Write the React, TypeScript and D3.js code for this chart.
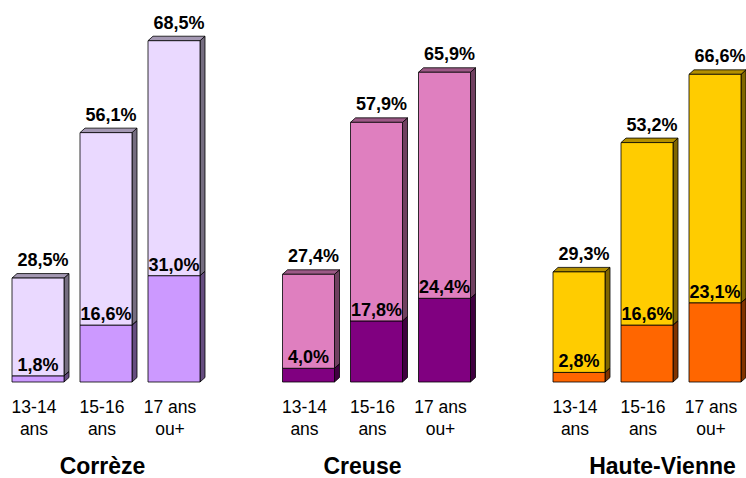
import React from "react";
import * as d3 from "d3";

const regions = ["Corrèze", "Creuse", "Haute-Vienne"];
const ages = ["13-14 ans", "15-16 ans", "17 ans ou+"];
const ageLines = [["13-14", "ans"], ["15-16", "ans"], ["17 ans", "ou+"]];
// dark (bottom) segment values
const darkValues = [
  [1.8, 16.6, 31.0],
  [4.0, 17.8, 24.4],
  [2.8, 16.6, 23.1],
];
// light (top) segment values
const lightValues = [
  [28.5, 56.1, 68.5],
  [27.4, 57.9, 65.9],
  [29.3, 53.2, 66.6],
];
const darkColors = ["#CC99FF", "#800080", "#FF6600"];
const lightColors = ["#EAD9FF", "#DF7FBF", "#FFCC00"];
const titleOffsets = [98.5, 88, 117.5];

const W = 746;
const H = 478;
const DX = 5;
const DY = 4.5;

const fmt = (v: number) => v.toFixed(1).replace(".", ",") + "%";

function shade(c: string, k: number) {
  const col = d3.rgb(c);
  return d3.rgb(col.r * k, col.g * k, col.b * k).formatHex();
}

function Box({ x, w, y0, y1, color }: { x: number; w: number; y0: number; y1: number; color: string }) {
  // y0 bottom, y1 top (pixel)
  const top = `M${x},${y1} L${x + DX},${y1 - DY} L${x + w + DX},${y1 - DY} L${x + w},${y1} Z`;
  const side = `M${x + w},${y1} L${x + w + DX},${y1 - DY} L${x + w + DX},${y0 - DY} L${x + w},${y0} Z`;
  return (
    <g stroke="#000" strokeWidth={0.8} strokeLinejoin="round">
      <path d={side} fill={shade(color, 0.5)} />
      <path d={top} fill={shade(color, 0.7)} />
      <rect x={x} y={y1} width={w} height={y0 - y1} fill={color} />
    </g>
  );
}

export default function App() {
  const outer = d3.scaleBand<string>().domain(regions).range([4, 4 + 3 * 270.5]);
  const inner = d3
    .scaleBand<string>()
    .domain(ages)
    .range([0, 204])
    .paddingInner(16 / 68)
    .paddingOuter(8 / 68);
  const y = d3.scaleLinear().domain([0, 100]).range([382, 39]);
  const bw = inner.bandwidth();
  const font = "'Liberation Sans', Arial, sans-serif";

  return (
    <svg
      width={W}
      height={H}
      style={{ position: "absolute", left: 0, top: 0, background: "#fff" }}
      fontFamily={font}
    >
      {regions.map((r, gi) => {
        const gx = outer(r)!;
        return (
          <g key={r}>
            {ages.map((a, ai) => {
              const x = gx + inner(a)!;
              const d = darkValues[gi][ai];
              const l = lightValues[gi][ai];
              const yd = y(d);
              const yt = y(d + l);
              const cx = x + bw / 2;
              return (
                <g key={a}>
                  <Box x={x} w={bw} y0={y(0)} y1={yd} color={darkColors[gi]} />
                  <Box x={x} w={bw} y0={yd} y1={yt} color={lightColors[gi]} />
                  <text x={cx + 5} y={yt - 12} textAnchor="middle" fontWeight="bold" fontSize={18} fill="#000">
                    {fmt(l)}
                  </text>
                  <text x={cx} y={yd - 5} textAnchor="middle" fontWeight="bold" fontSize={18} fill="#000">
                    {fmt(d)}
                  </text>
                  {ageLines[ai].map((t, li) => (
                    <text key={li} x={cx - 4} y={413 + li * 22} textAnchor="middle" fontSize={17.5} fill="#000">
                      {t}
                    </text>
                  ))}
                </g>
              );
            })}
            <text x={gx + titleOffsets[gi]} y={474} textAnchor="middle" fontWeight="bold" fontSize={23} fill="#000">
              {r}
            </text>
          </g>
        );
      })}
    </svg>
  );
}
